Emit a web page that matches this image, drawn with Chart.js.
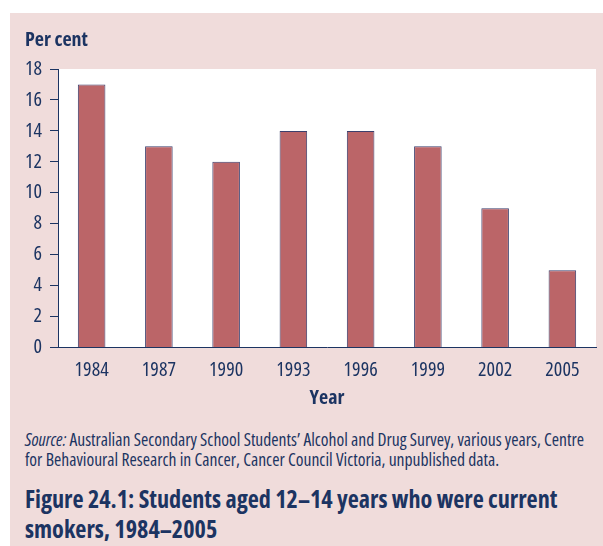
<!DOCTYPE html>
<html>
<head>
<meta charset="utf-8">
<script src="https://cdn.jsdelivr.net/npm/chart.js@4.4.0/dist/chart.umd.min.js"></script>
<style>
  body { margin: 0; background: #fff; font-family: "Open Sans", sans-serif; font-stretch: condensed; color: #1c3462; }
  #panel { position: absolute; left: 10px; top: 13px; width: 593px; height: 533px; background: #f0dcdb; }
  #wrap { position: absolute; left: 0; top: 0; width: 603px; height: 420px; }
  .txt { position: absolute; white-space: nowrap; }
  #ytitle { left: 25px; top: 29px; font-size: 20px; line-height: 20px; font-weight: bold; }
  #source { left: 25px; top: 430px; font-size: 17.6px; line-height: 19.5px; }
  #figtitle { left: 25px; top: 484px; font-size: 24.2px; line-height: 30px; font-weight: bold; }
</style>
</head>
<body>
<div id="panel"></div>
<div id="wrap"><canvas id="chart"></canvas></div>
<div class="txt" id="ytitle">Per cent</div>
<div class="txt" id="source"><i>Source:</i> Australian Secondary School Students’ Alcohol and Drug Survey, various years, Centre<br>for Behavioural Research in Cancer, Cancer Council Victoria, unpublished data.</div>
<div class="txt" id="figtitle">Figure 24.1: Students aged 12–14 years who were current<br>smokers, 1984–2005</div>
<script>
// valores
var years = ['1984', '1987', '1990', '1993', '1996', '1999', '2002', '2005'];
var smokers = [17, 13, 12, 14, 14, 13, 9, 5];
var yTicks = [0, 2, 4, 6, 8, 10, 12, 14, 16, 18];

var navy = '#1c3462';
var fontFam = '"Open Sans", sans-serif';

// fundo branco só na área do gráfico
var whiteArea = {
  id: 'whiteArea',
  beforeDraw: function (chart) {
    var a = chart.chartArea;
    var ctx = chart.ctx;
    ctx.save();
    ctx.fillStyle = '#ffffff';
    ctx.fillRect(a.left, a.top, a.right - a.left, a.bottom - a.top);
    ctx.restore();
  }
};

var ctx = document.getElementById('chart').getContext('2d');
var chart = new Chart(ctx, {
  type: 'bar',
  data: {
    labels: years,
    datasets: [{
      label: 'Current smokers',
      data: smokers,
      backgroundColor: '#bb6568',
      borderColor: '#3c3f6c',
      borderWidth: 1,
      barPercentage: 0.41,
      categoryPercentage: 1
    }]
  },
  options: {
    responsive: true,
    maintainAspectRatio: false,
    animation: false,
    layout: { padding: { top: 69, right: 7, left: 0, bottom: 0 } },
    plugins: {
      legend: { display: false },
      tooltip: { enabled: false }
    },
    scales: {
      x: {
        grid: { display: false },
        border: { display: true, color: navy, width: 1 },
        ticks: { color: navy, font: { family: fontFam, size: 20, weight: 'condensed' }, padding: 3, maxRotation: 0 },
        title: { display: true, text: 'Year', color: navy, font: { family: fontFam, size: 20, weight: 'bold condensed' }, padding: { top: 0, bottom: 10 } },
        afterFit: function (s) { s.height = 72.5; }
      },
      y: {
        min: 0,
        max: 18,
        afterBuildTicks: function (s) { s.ticks = yTicks.map(function (v) { return { value: v }; }); },
        grid: { drawOnChartArea: false, tickLength: 8, color: navy, lineWidth: 1 },
        border: { display: true, color: navy, width: 1 },
        ticks: { color: navy, font: { family: fontFam, size: 20, weight: 'condensed' }, padding: 8 },
        afterFit: function (s) { s.width = 58; }
      }
    }
  },
  plugins: [whiteArea]
});
</script>
</body>
</html>
